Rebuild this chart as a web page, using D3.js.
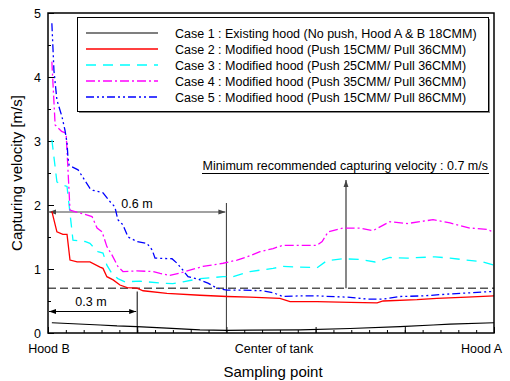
<!DOCTYPE html>
<html>
<head>
<meta charset="utf-8">
<script src="https://cdn.jsdelivr.net/npm/d3@7"></script>
<style>
  body { margin: 0; background: #fff; }
  text { font-family: "Liberation Sans", Arial, sans-serif; }
</style>
</head>
<body>
<svg id="chart" width="510" height="381"></svg>
<script>
// sampling position (m from hood B) and capturing velocity (m/s)
const case1X = [0.013, 0.175, 0.232, 0.299, 0.400, 0.511, 0.602, 0.679, 0.848, 1.016, 1.184, 1.295, 1.352, 1.5];
const case1Y = [0.16, 0.125, 0.11, 0.10, 0.075, 0.05, 0.04, 0.045, 0.05, 0.07, 0.10, 0.125, 0.14, 0.16];

const case2X = [0.013, 0.030, 0.050, 0.064, 0.074, 0.098, 0.141, 0.175, 0.185, 0.198, 0.219, 0.242, 0.266, 0.299, 0.320, 0.400, 0.511, 0.602, 0.679, 0.780, 0.814, 0.905, 1.016, 1.107, 1.127, 1.241, 1.308, 1.409, 1.5];
const case2Y = [1.90, 1.58, 1.54, 1.54, 1.14, 1.11, 1.11, 1.03, 1.01, 0.88, 0.83, 0.75, 0.71, 0.70, 0.66, 0.62, 0.59, 0.57, 0.56, 0.54, 0.49, 0.49, 0.48, 0.47, 0.50, 0.52, 0.54, 0.56, 0.58];

const case3X = [0.013, 0.030, 0.050, 0.064, 0.084, 0.124, 0.141, 0.168, 0.185, 0.198, 0.215, 0.235, 0.259, 0.309, 0.377, 0.420, 0.454, 0.511, 0.589, 0.622, 0.679, 0.757, 0.790, 0.905, 0.938, 0.992, 1.049, 1.100, 1.150, 1.208, 1.302, 1.352, 1.463, 1.5];
const case3Y = [3.02, 2.36, 2.31, 2.29, 1.45, 1.43, 1.40, 1.27, 1.25, 1.06, 0.93, 0.85, 0.80, 0.81, 0.78, 0.77, 0.80, 0.85, 0.88, 0.88, 0.96, 1.01, 1.04, 1.02, 1.13, 1.16, 1.15, 1.11, 1.18, 1.17, 1.19, 1.17, 1.11, 1.06];

const case4X = [0.013, 0.024, 0.046, 0.061, 0.074, 0.148, 0.165, 0.182, 0.198, 0.215, 0.235, 0.252, 0.299, 0.353, 0.377, 0.410, 0.454, 0.521, 0.589, 0.636, 0.669, 0.713, 0.757, 0.790, 0.905, 0.922, 0.942, 0.992, 1.049, 1.093, 1.150, 1.208, 1.295, 1.352, 1.419, 1.477, 1.5];
const case4Y = [4.24, 3.25, 3.15, 3.12, 1.92, 1.82, 1.64, 1.58, 1.35, 1.22, 1.04, 0.96, 0.97, 0.96, 0.93, 0.90, 0.95, 1.04, 1.09, 1.14, 1.19, 1.27, 1.32, 1.37, 1.37, 1.43, 1.58, 1.64, 1.64, 1.60, 1.74, 1.71, 1.77, 1.72, 1.64, 1.62, 1.57];

const case5X = [0.013, 0.020, 0.030, 0.047, 0.057, 0.064, 0.067, 0.071, 0.101, 0.141, 0.151, 0.185, 0.209, 0.225, 0.235, 0.252, 0.269, 0.299, 0.333, 0.350, 0.360, 0.417, 0.434, 0.454, 0.471, 0.505, 0.538, 0.568, 0.602, 0.656, 0.723, 0.757, 0.790, 0.848, 0.905, 1.006, 1.073, 1.127, 1.184, 1.261, 1.352, 1.5];
const case5Y = [4.84, 4.10, 3.64, 3.38, 3.17, 2.97, 2.75, 2.62, 2.55, 2.26, 2.23, 2.19, 2.05, 1.97, 1.77, 1.69, 1.50, 1.43, 1.40, 1.30, 1.17, 1.16, 1.09, 0.98, 0.88, 0.84, 0.78, 0.70, 0.67, 0.67, 0.66, 0.63, 0.57, 0.58, 0.58, 0.56, 0.53, 0.53, 0.57, 0.58, 0.61, 0.65];

const legendLabels = [
  "Case 1 : Existing hood (No push, Hood A & B 18CMM)",
  "Case 2 : Modified hood (Push 15CMM/ Pull 36CMM)",
  "Case 3 : Modified hood (Push 25CMM/ Pull 36CMM)",
  "Case 4 : Modified hood (Push 35CMM/ Pull 36CMM)",
  "Case 5 : Modified hood (Push 15CMM/ Pull 86CMM)"
];
const xLabels = ["Hood B", "Center of tank", "Hood A"];
const xLabelPos = [0, 0.75, 1.5];
const yTicks = [0, 1, 2, 3, 4, 5];
const minVelocity = 0.7;

const series = [
  {x: case1X, y: case1Y, color: "#000000", dash: null, w: 1.2},
  {x: case2X, y: case2Y, color: "#ff0000", dash: null, w: 1.3},
  {x: case3X, y: case3Y, color: "#00ffff", dash: "10,7", w: 1.3},
  {x: case4X, y: case4Y, color: "#ff00ff", dash: "9,3,2,3", w: 1.3},
  {x: case5X, y: case5Y, color: "#0000ff", dash: "8,3,2,3,2,3", w: 1.3}
];

const svg = d3.select("#chart");
const pLeft = 48, pRight = 494, pTop = 13, pBottom = 333;

const x = d3.scaleLinear().domain([0, 1.5]).range([pLeft, pRight]);
const y = d3.scaleLinear().domain([0, 5]).range([pBottom, pTop]);

const defs = svg.append("defs");
function marker(id, color) {
  defs.append("marker")
    .attr("id", id)
    .attr("viewBox", "0 0 10 10")
    .attr("refX", 10).attr("refY", 5)
    .attr("markerWidth", 7).attr("markerHeight", 7)
    .attr("markerUnits", "userSpaceOnUse")
    .attr("orient", "auto-start-reverse")
    .append("path")
    .attr("d", "M0,1.5 L10,5 L0,8.5 Z")
    .attr("fill", color);
}
marker("arrGray", "#444");
marker("arrBlack", "#000");

// axes with inward ticks
svg.append("g")
  .attr("transform", `translate(0,${pBottom})`)
  .call(d3.axisBottom(x).tickValues(d3.range(0, 1.501, 0.06)).tickSize(-3).tickFormat(""))
  .call(g => g.select(".domain").remove());
svg.append("g")
  .attr("transform", `translate(0,${pBottom})`)
  .call(d3.axisBottom(x).tickValues(d3.range(0, 1.501, 0.3)).tickSize(-6).tickFormat(""))
  .call(g => g.select(".domain").remove());

svg.append("g")
  .attr("transform", `translate(${pLeft},0)`)
  .call(d3.axisLeft(y).tickValues(d3.range(0.5, 5, 1)).tickSize(-3).tickFormat(""))
  .call(g => g.select(".domain").remove());
svg.append("g")
  .attr("transform", `translate(${pLeft},0)`)
  .call(d3.axisLeft(y).tickValues(yTicks).tickSize(-6).tickPadding(7).tickFormat(d3.format("d")))
  .call(g => g.select(".domain").remove())
  .call(g => g.selectAll("text").style("font-size", "12.5px").attr("fill", "#000"));

svg.selectAll(".tick line").attr("stroke", "#000");

// x category labels
svg.append("g").selectAll("text")
  .data(xLabels)
  .join("text")
  .attr("x", (d, i) => x(xLabelPos[i]) + (i === 0 ? 1 : i === 1 ? 3 : 8))
  .attr("y", 353)
  .attr("text-anchor", (d, i) => i === 2 ? "end" : "middle")
  .style("font-size", "12.5px")
  .text(d => d);

svg.append("text")
  .attr("x", 273).attr("y", 377)
  .attr("text-anchor", "middle")
  .style("font-size", "15px")
  .text("Sampling point");

svg.append("text")
  .attr("transform", `translate(22,${(pTop + pBottom) / 2}) rotate(-90)`)
  .attr("text-anchor", "middle")
  .style("font-size", "15px")
  .text("Capturing velocity [m/s]");

// minimum velocity line
svg.append("line")
  .attr("x1", pLeft).attr("x2", pRight)
  .attr("y1", y(minVelocity)).attr("y2", y(minVelocity))
  .attr("stroke", "#555").attr("stroke-width", 1.6)
  .attr("stroke-dasharray", "8,4");

// distance annotations
svg.append("line")
  .attr("x1", x(0.6)).attr("x2", x(0.6))
  .attr("y1", 203).attr("y2", pBottom)
  .attr("stroke", "#333").attr("stroke-width", 1);
svg.append("line")
  .attr("x1", pLeft + 1).attr("x2", x(0.6) - 1)
  .attr("y1", 212).attr("y2", 212)
  .attr("stroke", "#444").attr("stroke-width", 1.2)
  .attr("marker-start", "url(#arrGray)")
  .attr("marker-end", "url(#arrGray)");
svg.append("text")
  .attr("x", 137).attr("y", 208)
  .attr("text-anchor", "middle")
  .style("font-size", "12.5px")
  .text("0.6 m");

svg.append("line")
  .attr("x1", x(0.3)).attr("x2", x(0.3))
  .attr("y1", 291.5).attr("y2", pBottom)
  .attr("stroke", "#000").attr("stroke-width", 1);
svg.append("line")
  .attr("x1", pLeft + 1).attr("x2", x(0.3) - 1)
  .attr("y1", 311.5).attr("y2", 311.5)
  .attr("stroke", "#000").attr("stroke-width", 1)
  .attr("marker-start", "url(#arrBlack)")
  .attr("marker-end", "url(#arrBlack)");
svg.append("text")
  .attr("x", 91).attr("y", 306)
  .attr("text-anchor", "middle")
  .style("font-size", "12.5px")
  .text("0.3 m");

// recommended velocity note
svg.append("text")
  .attr("x", 488).attr("y", 170)
  .attr("text-anchor", "end")
  .style("font-size", "12.5px")
  .text("Minimum recommended capturing velocity : " + minVelocity + " m/s");
svg.append("line")
  .attr("x1", 202).attr("x2", 489)
  .attr("y1", 173.5).attr("y2", 173.5)
  .attr("stroke", "#000").attr("stroke-width", 1);
svg.append("line")
  .attr("x1", 346).attr("x2", 346)
  .attr("y1", y(minVelocity)).attr("y2", 180)
  .attr("stroke", "#555").attr("stroke-width", 1.4)
  .attr("marker-end", "url(#arrGray)");

// series
const line = d3.line().x(d => x(d[0])).y(d => y(d[1]));
svg.append("g").selectAll("path")
  .data(series)
  .join("path")
  .attr("d", s => line(s.x.map((v, i) => [v, s.y[i]])))
  .attr("fill", "none")
  .attr("stroke", s => s.color)
  .attr("stroke-width", s => s.w)
  .attr("stroke-dasharray", s => s.dash);

// frame
svg.append("rect")
  .attr("x", pLeft).attr("y", pTop)
  .attr("width", pRight - pLeft).attr("height", pBottom - pTop)
  .attr("fill", "none").attr("stroke", "#000").attr("stroke-width", 1.5);

// legend
const lg = svg.append("g");
lg.append("rect")
  .attr("x", 79).attr("y", 19).attr("width", 411).attr("height", 94)
  .attr("fill", "#888");
lg.append("rect")
  .attr("x", 77.5).attr("y", 17.5).attr("width", 411).attr("height", 94)
  .attr("fill", "#fff").attr("stroke", "#000").attr("stroke-width", 1);
const rows = lg.selectAll("g.row")
  .data(series)
  .join("g")
  .attr("class", "row")
  .attr("transform", (d, i) => `translate(0,${33 + i * 16})`);
rows.append("line")
  .attr("x1", 86).attr("x2", 158)
  .attr("stroke", s => s.color)
  .attr("stroke-width", s => s.w)
  .attr("stroke-dasharray", s => s.dash);
rows.append("text")
  .attr("x", 175).attr("y", 4.5)
  .style("font-size", "12.5px")
  .text((d, i) => legendLabels[i]);
</script>
</body>
</html>
